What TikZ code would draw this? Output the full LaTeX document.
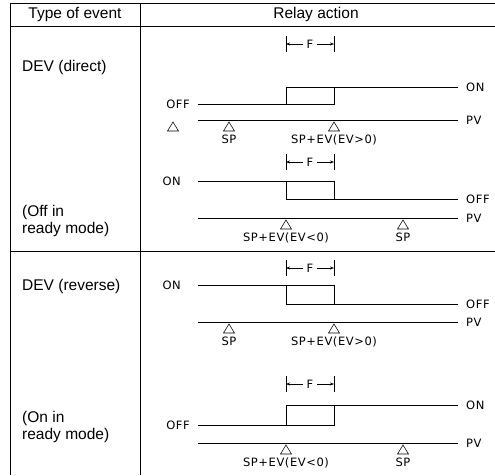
\documentclass[tikz,border=0pt]{standalone}
\usepackage{fontspec}
\setmainfont{Liberation Sans}
\newfontfamily\lblfont[LetterSpace=5]{DejaVu Sans}
\usetikzlibrary{arrows.meta}
\begin{document}
\begin{tikzpicture}[x=1pt,y=-1pt,
  grid/.style={line width=0.7pt},
  sig/.style={line width=0.6pt},
  trishape/.style={line width=0.55pt,line join=miter},
  lbl/.style={font=\lblfont\fontsize{11.5}{13}\selectfont,inner sep=0pt},
  hdr/.style={font=\fontsize{15.5}{16.5}\selectfont,inner sep=0pt},
  fdim/.style={-{Stealth[length=4pt,width=3pt]},line width=0.5pt}]
\useasboundingbox (0,0) rectangle (495,475);
\newcommand\Fmark[2]{%
  \coordinate (#1l) at (286,#2);
  \coordinate (#1r) at (334,#2);
  \draw[sig] (286,#2-8) -- (286,#2+8);
  \draw[sig] (334,#2-8) -- (334,#2+8);
  \node[lbl,outer sep=4pt] (#1) at (310,#2) {F};
  \draw[fdim] (#1) -- (#1l);
  \draw[fdim] (#1) -- (#1r);
}
% #1 name, #2 x, #3 PV y, #4 label
\newcommand\Tri{[4]}
\renewcommand\Tri[4]{%
  \coordinate (#1) at (#2,#3+2);
  \draw[trishape] (#1) -- ++(5.5,9) -- ++(-11,0) -- cycle;
  \node[lbl,anchor=base] (#1t) at (#2,#3+23) {#4};
}
% table
\draw[grid] (10,475) -- (10,3) -- (495,3);
\draw[grid] (10,26) -- (495,26);
\draw[grid] (140,3) -- (140,475);
\draw[grid] (10,251) -- (495,251);
\node[hdr] (h1) at (75,14) {Type of event};
\node[hdr] (h2) at (316,14) {Relay action};
% left column
\node[hdr,anchor=west] (e1) at (22,67) {DEV (direct)};
\node[hdr,anchor=west,align=left] (e2) at (22,221) {(Off in\\ready mode)};
\node[hdr,anchor=west] (e3) at (22,286) {DEV (reverse)};
\node[hdr,anchor=west,align=left] (e4) at (22,427) {(On in\\ready mode)};
% diagram 1
\Fmark{fa}{44}
\draw[sig] (198,104) -- (334,104) -- (334,87) -- (458,87);
\draw[sig] (286,104) -- (286,87) -- (334,87);
\node[lbl,anchor=east] (offa) at (190,104) {OFF};
\node[lbl,anchor=west] (ona) at (466,87) {ON};
\draw[sig] (198,120) -- (458,120);
\node[lbl,anchor=west] (pva) at (466,120) {PV};
\Tri{ta0}{173}{120}{}
\Tri{ta1}{229}{120}{SP}
\Tri{ta2}{334}{120}{SP+EV(EV>0)}
% diagram 2
\Fmark{fb}{162}
\draw[sig] (198,181) -- (334,181) -- (334,199) -- (458,199);
\draw[sig] (286,181) -- (286,199) -- (334,199);
\node[lbl,anchor=east] (onb) at (181,181) {ON};
\node[lbl,anchor=west] (offb) at (466,199) {OFF};
\draw[sig] (198,218) -- (458,218);
\node[lbl,anchor=west] (pvb) at (466,218) {PV};
\Tri{tb1}{286}{218}{SP+EV(EV<0)}
\Tri{tb2}{403}{218}{SP}
% diagram 3
\Fmark{fc}{268}
\draw[sig] (198,285) -- (334,285) -- (334,304) -- (458,304);
\draw[sig] (286,285) -- (286,304) -- (334,304);
\node[lbl,anchor=east] (onc) at (181,285) {ON};
\node[lbl,anchor=west] (offc) at (466,304) {OFF};
\draw[sig] (198,322) -- (458,322);
\node[lbl,anchor=west] (pvc) at (466,322) {PV};
\Tri{tc1}{229}{322}{SP}
\Tri{tc2}{334}{322}{SP+EV(EV>0)}
% diagram 4
\Fmark{fd}{384}
\draw[sig] (198,425) -- (334,425) -- (334,405) -- (458,405);
\draw[sig] (286,425) -- (286,405) -- (334,405);
\node[lbl,anchor=east] (offd) at (190,425) {OFF};
\node[lbl,anchor=west] (ond) at (466,405) {ON};
\draw[sig] (198,443) -- (458,443);
\node[lbl,anchor=west] (pvd) at (466,443) {PV};
\Tri{td1}{286}{443}{SP+EV(EV<0)}
\Tri{td2}{403}{443}{SP}
\end{tikzpicture}
\end{document}
